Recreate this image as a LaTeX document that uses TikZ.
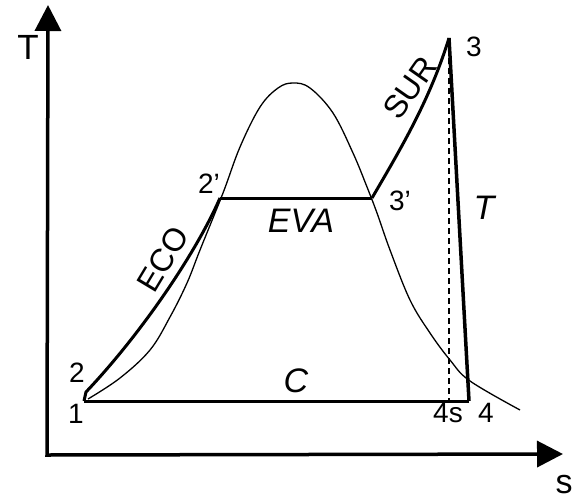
\documentclass[tikz,border=0pt]{standalone}
\usepackage{fontspec}
\setmainfont{Liberation Sans}
\usetikzlibrary{arrows.meta}
\begin{document}
\begin{tikzpicture}[x=1pt,y=-1pt,
  axis/.style={line width=3.5pt, {Triangle[length=26pt,width=26pt]}-{Triangle[length=26pt,width=26pt]}},
  proc/.style={line width=3pt},
  dome/.style={line width=1.3pt},
  num/.style={inner sep=0pt, font=\fontsize{28}{30}\selectfont},
  big/.style={inner sep=0pt, font=\fontsize{34}{36}\selectfont\itshape},
  tag/.style={inner sep=0pt, font=\fontsize{32}{34}\selectfont},
]
\useasboundingbox (0,0) rectangle (572,495);
% axes
\coordinate (o) at (47,455);
\coordinate (ytip) at (48,5);
\coordinate (xtip) at (563,454);
\draw[axis] (ytip) -- (o) -- (xtip);
\node[tag, font=\fontsize{35}{36}\selectfont] (Tax) at (28,47) {T};
\node[tag, font=\fontsize{34}{36}\selectfont] (sax) at (564,485) {s};
% state points
\coordinate (p1) at (84,401);
\coordinate (p2) at (86,392);
\coordinate (p2p) at (220,198);
\coordinate (p3p) at (372,198);
\coordinate (p3) at (449,38);
\coordinate (p4) at (469,401);
\coordinate (p4s) at (449,401);
% saturation dome
\draw[dome] plot[smooth, tension=0.6] coordinates {(88,399) (120,378) (150,350) (170,317) (187,283) (200,250) (223,193) (240,147) (260,107) (278,88) (293,83) (310,88) (333,113) (353,153) (367,187) (377,213) (390,250) (410,300) (430,333) (450,360) (470,381) (520,410)};
% processes
\draw[proc] (p1) -- (p2) .. controls (140,335) and (195,255) .. (p2p);
\draw[proc] (p2p) -- (p3p);
\draw[proc] (p3p) .. controls (400,150) and (430,100) .. (p3);
\draw[proc, line width=3.5pt] (p3) -- (p4);
\draw[proc, line cap=butt] (p4) -- (p1);
\draw[line width=1.5pt, dash pattern=on 6pt off 4pt] (p3) -- (p4s);
% labels
\node[num] (l1) at (76,414) {1};
\node[num] (l2) at (77,373) {2};
\node[num] (l2p) at (209,184) {2'};
\node[num] (l3p) at (400,201) {3'};
\node[num] (l3) at (474,47) {3};
\node[num] (l4s) at (448,413) {4s};
\node[num] (l4) at (486,413) {4};
\node[big] (eva) at (301,221) {EVA};
\node[big] (cc) at (296,381) {C};
\node[big] (tt) at (484,208) {T};
\node[tag, rotate=59] (eco) at (163,259) {ECO};
\node[tag, rotate=55] (sur) at (410,88) {SUR};
\end{tikzpicture}
\end{document}
